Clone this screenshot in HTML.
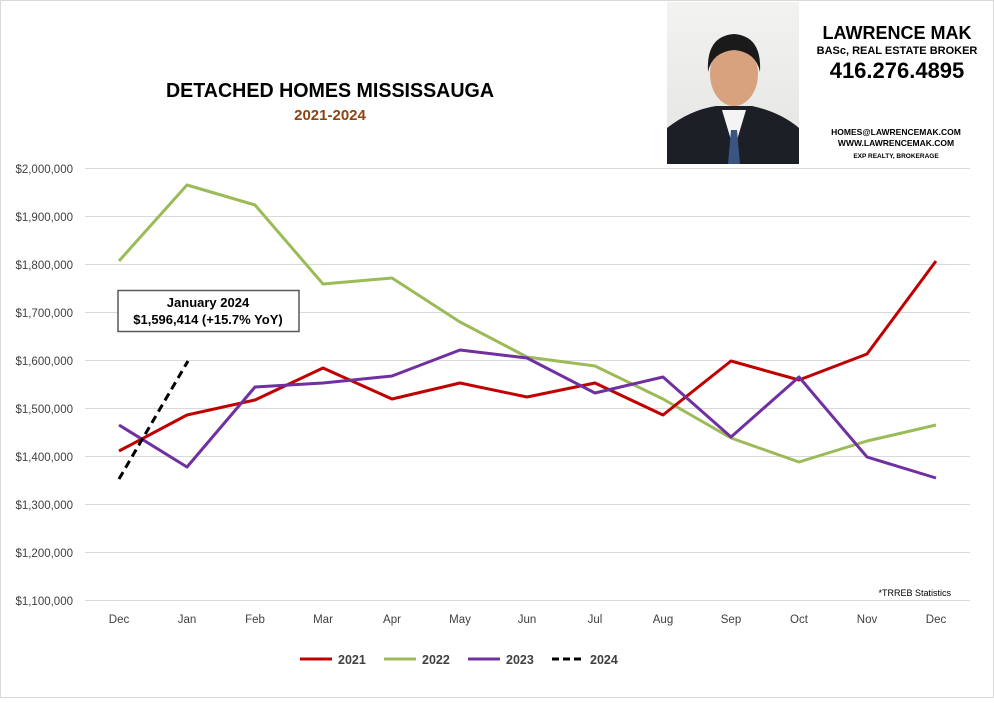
<!DOCTYPE html>
<html><head><meta charset="utf-8"><style>
body{margin:0;background:#fff;width:994px;height:698px;overflow:hidden;font-family:"Liberation Sans",sans-serif}
</style></head><body>
<svg width="994" height="698" xmlns="http://www.w3.org/2000/svg" font-family="Liberation Sans, sans-serif">
<rect x="0.5" y="0.5" width="993" height="697" fill="#fff" stroke="#d9d9d9"/>
<g stroke="#d9d9d9" stroke-width="1">
<line x1="85" x2="970" y1="168.5" y2="168.5"/><line x1="85" x2="970" y1="216.5" y2="216.5"/>
<line x1="85" x2="970" y1="264.5" y2="264.5"/><line x1="85" x2="970" y1="312.5" y2="312.5"/>
<line x1="85" x2="970" y1="360.5" y2="360.5"/><line x1="85" x2="970" y1="408.5" y2="408.5"/>
<line x1="85" x2="970" y1="456.5" y2="456.5"/><line x1="85" x2="970" y1="504.5" y2="504.5"/>
<line x1="85" x2="970" y1="552.5" y2="552.5"/><line x1="85" x2="970" y1="600.5" y2="600.5"/>
</g>
<g font-size="11.5" fill="#404040" text-anchor="end">
<text x="73" y="173">$2,000,000</text><text x="73" y="221">$1,900,000</text>
<text x="73" y="269">$1,800,000</text><text x="73" y="317">$1,700,000</text>
<text x="73" y="365">$1,600,000</text><text x="73" y="413">$1,500,000</text>
<text x="73" y="461">$1,400,000</text><text x="73" y="509">$1,300,000</text>
<text x="73" y="557">$1,200,000</text><text x="73" y="605">$1,100,000</text>
</g>
<g font-size="11.5" fill="#404040" text-anchor="middle">
<text x="119" y="623">Dec</text><text x="187" y="623">Jan</text><text x="255" y="623">Feb</text>
<text x="323" y="623">Mar</text><text x="392" y="623">Apr</text><text x="460" y="623">May</text>
<text x="527" y="623">Jun</text><text x="595" y="623">Jul</text><text x="663" y="623">Aug</text>
<text x="731" y="623">Sep</text><text x="799" y="623">Oct</text><text x="867" y="623">Nov</text>
<text x="936" y="623">Dec</text>
</g>
<g fill="none" stroke-width="3" stroke-linejoin="round">
<polyline stroke="#9bbb59" points="119,261 187,185 255,205 323,284 392,278 460,322 527,357 595,366 663,399 731,438 799,462 867,441 936,425"/>
<polyline stroke="#c00000" points="119,451 187,415 255,400 323,368 392,399 460,383 527,397 595,383 663,415 731,361 799,380 867,354 936,261"/>
<polyline stroke="#7030a0" points="119,425 187,467 255,387 323,383 392,376 460,350 527,358 595,393 663,377 731,437 799,377 867,457 936,478"/>
<line x1="119" y1="479" x2="188" y2="361" stroke="#000" stroke-dasharray="8,5"/>
</g>
<rect x="118" y="290.5" width="181" height="41" fill="#fff" stroke="#595959" stroke-width="1.5"/>
<text x="208" y="307" font-size="13" font-weight="bold" text-anchor="middle">January 2024</text>
<text x="208" y="324" font-size="13" font-weight="bold" text-anchor="middle">$1,596,414  (+15.7%  YoY)</text>
<text x="330" y="97" font-size="20" font-weight="bold" text-anchor="middle" fill="#000" textLength="328" lengthAdjust="spacingAndGlyphs">DETACHED HOMES MISSISSAUGA</text>
<text x="330" y="120" font-size="15" font-weight="bold" text-anchor="middle" fill="#8b4513">2021-2024</text>
<text x="951" y="596" font-size="9" text-anchor="end" fill="#000">*TRREB Statistics</text>
<g font-size="12.5" font-weight="bold" fill="#404040">
<line x1="300" x2="332" y1="659" y2="659" stroke="#c00000" stroke-width="3"/><text x="338" y="664">2021</text>
<line x1="384" x2="416" y1="659" y2="659" stroke="#9bbb59" stroke-width="3"/><text x="422" y="664">2022</text>
<line x1="468" x2="500" y1="659" y2="659" stroke="#7030a0" stroke-width="3"/><text x="506" y="664">2023</text>
<line x1="552" x2="584" y1="659" y2="659" stroke="#000" stroke-width="3" stroke-dasharray="7,4"/><text x="590" y="664">2024</text>
</g>
<defs><linearGradient id="bg" x1="0" y1="0" x2="0" y2="1"><stop offset="0" stop-color="#f2f2f0"/><stop offset="1" stop-color="#e4e4e2"/></linearGradient></defs>
<rect x="667" y="2" width="132" height="162" fill="url(#bg)"/>
<path d="M667,164 L667,128 Q690,110 716,106 L752,106 Q780,112 799,128 L799,164 Z" fill="#1c1f26"/>
<path d="M722,110 L734,150 L746,110 Z" fill="#f4f4f4"/>
<path d="M731,130 L737,130 L740,164 L728,164 Z" fill="#3a5584"/>
<ellipse cx="734" cy="74" rx="24" ry="32" fill="#d9a27f"/>
<path d="M708,72 Q706,36 734,34 Q762,36 760,72 Q756,52 734,50 Q712,52 708,72Z" fill="#1a1a1a"/>
<g text-anchor="middle" font-weight="bold" fill="#000">
<text x="897" y="39" font-size="18">LAWRENCE MAK</text>
<text x="897" y="54" font-size="11">BASc, REAL ESTATE BROKER</text>
<text x="897" y="78" font-size="22">416.276.4895</text>
<text x="896" y="135" font-size="8.5">HOMES@LAWRENCEMAK.COM</text>
<text x="896" y="146" font-size="8.5">WWW.LAWRENCEMAK.COM</text>
<text x="896" y="158" font-size="6.5">EXP REALTY, BROKERAGE</text>
</g>
</svg>
</body></html>
